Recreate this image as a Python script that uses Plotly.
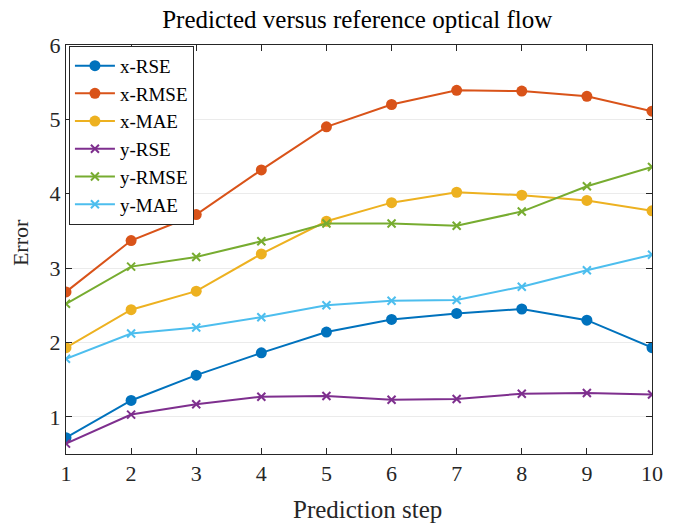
import plotly.graph_objects as go

steps = [1, 2, 3, 4, 5, 6, 7, 8, 9, 10]
x_rse = [0.72, 1.22, 1.56, 1.86, 2.14, 2.31, 2.39, 2.45, 2.30, 1.93]
x_rmse = [2.68, 3.37, 3.72, 4.32, 4.90, 5.20, 5.39, 5.38, 5.31, 5.11]
x_mae = [1.93, 2.44, 2.69, 3.19, 3.63, 3.88, 4.02, 3.98, 3.91, 3.77]
y_rse = [0.64, 1.03, 1.17, 1.27, 1.28, 1.23, 1.24, 1.31, 1.32, 1.30]
y_rmse = [2.52, 3.02, 3.15, 3.36, 3.60, 3.60, 3.57, 3.76, 4.10, 4.36]
y_mae = [1.78, 2.12, 2.20, 2.34, 2.50, 2.56, 2.57, 2.75, 2.97, 3.18]

series = [
    ("x-RSE", x_rse, "#0072BD", "circle"),
    ("x-RMSE", x_rmse, "#D95319", "circle"),
    ("x-MAE", x_mae, "#EDB120", "circle"),
    ("y-RSE", y_rse, "#7E2F8E", "x-thin"),
    ("y-RMSE", y_rmse, "#77AC30", "x-thin"),
    ("y-MAE", y_mae, "#4DBEEE", "x-thin"),
]

FONT = "Liberation Serif, Times New Roman, serif"
fig = go.Figure()
for name, vals, color, sym in series:
    if sym == "circle":
        marker = dict(symbol="circle", size=11, color=color)
    else:
        marker = dict(symbol="x-thin", size=8, color=color,
                      line=dict(color=color, width=2))
    fig.add_trace(go.Scatter(x=steps, y=vals, name=name, mode="lines+markers",
                             line=dict(color=color, width=2), marker=marker))

axis_common = dict(showline=True, linecolor="#262626", linewidth=1, mirror="ticks",
                   ticks="inside", ticklen=6, tickcolor="#262626",
                   tickfont=dict(family=FONT, size=22, color="#262626"),
                   zeroline=False)
fig.update_layout(
    width=669, height=515, autosize=False,
    paper_bgcolor="white", plot_bgcolor="white",
    margin=dict(l=58, r=25, t=37, b=69),
    title=dict(text="Predicted versus reference optical flow", x=0.522, xanchor="center",
               y=0.979, yanchor="middle",
               font=dict(family=FONT, size=25, color="black")),
    xaxis=dict(range=[1, 10], tickvals=steps, showgrid=False, **axis_common),
    yaxis=dict(range=[0.5, 6], tickvals=[1, 2, 3, 4, 5, 6], showgrid=True,
               gridcolor="#EBEBEB", gridwidth=1, **axis_common),
    legend=dict(x=0.005, y=0.998, xanchor="left", yanchor="top",
                bgcolor="white", bordercolor="#262626", borderwidth=1,
                font=dict(family=FONT, size=19, color="black"),
                tracegroupgap=0, itemwidth=40),
    showlegend=True,
    annotations=[
        dict(text="Prediction step", xref="paper", yref="paper", x=0.5145, y=-0.1345,
             xanchor="center", yanchor="middle", showarrow=False,
             font=dict(family=FONT, size=25, color="#262626")),
        dict(text="Error", xref="paper", yref="paper", x=-0.0776, y=0.517,
             xanchor="center", yanchor="middle", textangle=-90, showarrow=False,
             font=dict(family=FONT, size=22, color="#262626")),
    ],
)
fig.write_html("out.html")
